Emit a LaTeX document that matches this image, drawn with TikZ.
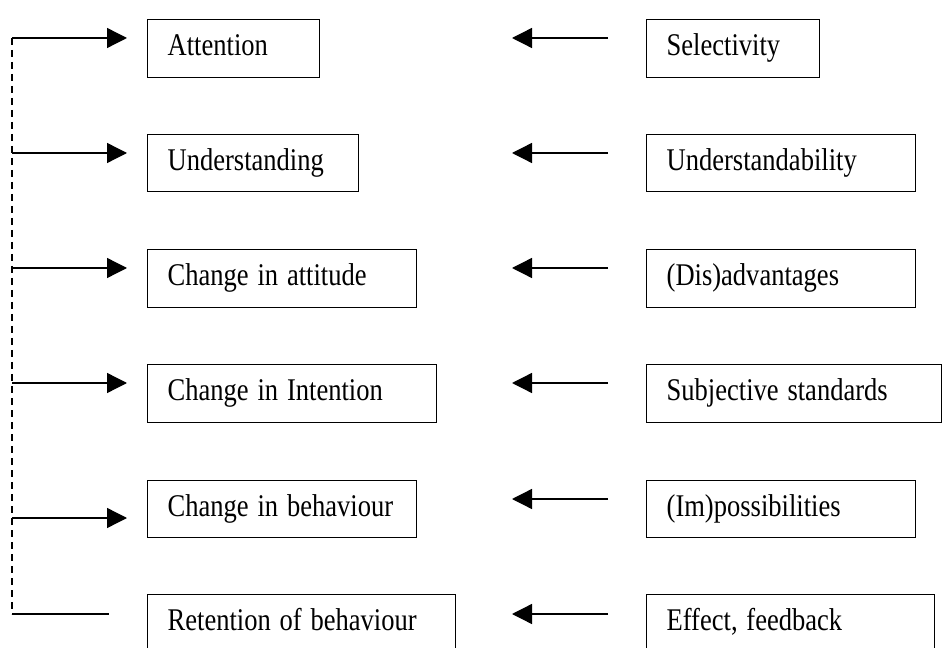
\documentclass[tikz,border=0pt]{standalone}
\usepackage{fontspec}
\usepackage{graphicx}
\setmainfont{Liberation Serif}
\usetikzlibrary{arrows.meta,calc}
\def\u{0.75pt}
% labels are set a little taller than their natural shape
\newcommand\tall[1]{\scalebox{1}[1.19]{#1}}
\tikzset{
  stagebox/.style 2 args={draw, line width=1pt, anchor=north west, align=left,
    inner xsep=20*\u, inner ysep=0pt, text width=(#1-40)*\u,
    minimum height=#2*\u, text height=22*\u, text depth=8*\u,
    font=\fontsize{19.9}{24}\selectfont},
  arr/.style={line width=1pt, -{Triangle[length=15pt,width=15pt]}},
  plain/.style={line width=1pt},
  loop/.style={line width=1pt, dash pattern=on 7*\u off 5*\u}
}
\begin{document}
\begin{tikzpicture}[x=\u, y=-\u]
\useasboundingbox (0,0) rectangle (942,648);
\clip (0,0) rectangle (942,648);
\fill[white] (0,0) rectangle (942,648);

% left column: stages
\node[stagebox={172}{58}] (L1) at (147,19)  {\tall{Attention}};
\node[stagebox={211}{57}] (L2) at (147,134) {\tall{Understanding}};
\node[stagebox={269}{58}] (L3) at (147,249) {\tall{Change in attitude}};
\node[stagebox={289}{58}] (L4) at (147,364) {\tall{Change in Intention}};
\node[stagebox={269}{57}] (L5) at (147,480) {\tall{Change in behaviour}};
\node[stagebox={308}{58}] (L6) at (147,594) {\tall{Retention of behaviour}};

% right column: determinants
\node[stagebox={173}{58}] (R1) at (646,19)  {\tall{Selectivity}};
\node[stagebox={269}{57}] (R2) at (646,134) {\tall{Understandability}};
\node[stagebox={269}{58}] (R3) at (646,249) {\tall{(Dis)advantages}};
\node[stagebox={295}{58}] (R4) at (646,364) {\tall{Subjective standards}};
\node[stagebox={269}{57}] (R5) at (646,480) {\tall{(Im)possibilities}};
\node[stagebox={288}{58}] (R6) at (646,594) {\tall{Effect, feedback}};

% feedback line points
\coordinate (d1) at (12,38);
\coordinate (d2) at (12,153);
\coordinate (d3) at (12,268);
\coordinate (d4) at (12,383);
\coordinate (d5) at (12,518);
\coordinate (d6) at (12,614);

% tips of the determinant arrows
\coordinate (t1) at (512,38);
\coordinate (t2) at (512,153);
\coordinate (t3) at (512,268);
\coordinate (t4) at (512,383);
\coordinate (t5) at (512,499);
\coordinate (t6) at (512,614);

% dashed feedback loop
\draw[loop] (d1) -- (d6);
\draw[plain, shorten >=38*\u] (d6) -- (d6 -| L6.west);

% arrows into the stages
\foreach \i in {1,...,5}
  \draw[arr, shorten >=20*\u] (d\i) -- (d\i -| L\i.west);

% arrows from the determinants
\foreach \i in {1,...,6}
  \draw[arr, shorten <=38*\u] (t\i -| R\i.west) -- (t\i);
\end{tikzpicture}
\end{document}
